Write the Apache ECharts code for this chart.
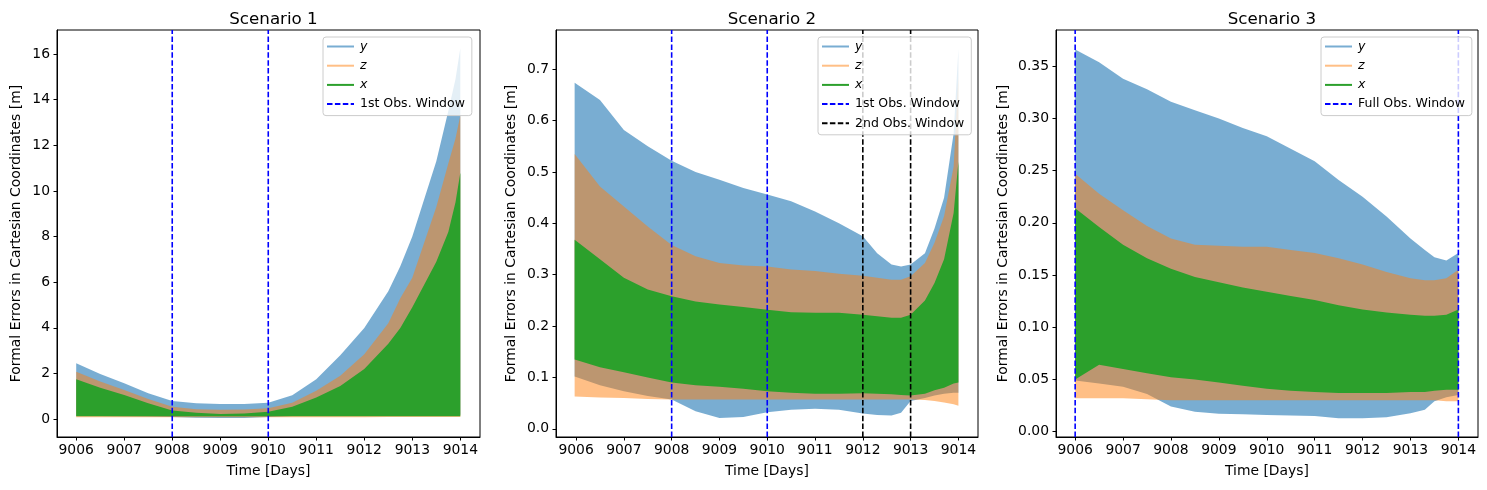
<!DOCTYPE html>
<html>
<head>
<meta charset="utf-8">
<script src="https://cdn.jsdelivr.net/npm/echarts@6/dist/echarts.min.js"></script>
<style>
  html, body { margin: 0; padding: 0; background: #fff; }
  #chart { width: 1487px; height: 490px; }
</style>
</head>
<body>
<div id="chart"></div>
<script>
// envelopes (lower / upper) of the oscillating formal errors
var t1 = [9006, 9006.5, 9007, 9007.5, 9008, 9008.5, 9009, 9009.5, 9010, 9010.5, 9011, 9011.5, 9012, 9012.5, 9012.75, 9013, 9013.5, 9013.75, 9013.9, 9014];
var y1Hi = [2.45, 1.98, 1.58, 1.14, 0.8, 0.7, 0.67, 0.67, 0.72, 1.05, 1.75, 2.8, 4.0, 5.6, 6.7, 8.0, 11.3, 13.5, 14.9, 16.25];
var y1Lo = [0.15, 0.14, 0.13, 0.12, 0.1, 0.06, 0.05, 0.05, 0.1, 0.14, 0.15, 0.16, 0.17, 0.18, 0.18, 0.18, 0.19, 0.19, 0.2, 0.2];
var z1Hi = [2.08, 1.65, 1.28, 0.88, 0.55, 0.44, 0.41, 0.42, 0.48, 0.72, 1.25, 1.9, 2.85, 4.2, 5.3, 6.2, 9.3, 11.2, 12.3, 13.3];
var z1Lo = [0.09, 0.09, 0.09, 0.09, 0.09, 0.09, 0.09, 0.09, 0.09, 0.09, 0.09, 0.09, 0.09, 0.1, 0.1, 0.1, 0.1, 0.1, 0.1, 0.1];
var x1Hi = [1.75, 1.38, 1.06, 0.7, 0.38, 0.28, 0.23, 0.25, 0.33, 0.55, 0.95, 1.45, 2.2, 3.3, 4.0, 4.9, 6.9, 8.2, 9.5, 10.8];
var x1Lo = [0.13, 0.13, 0.13, 0.13, 0.13, 0.13, 0.13, 0.13, 0.13, 0.13, 0.13, 0.13, 0.13, 0.13, 0.13, 0.13, 0.13, 0.13, 0.13, 0.13];

var t2 = [9005.97, 9006.5, 9007, 9007.5, 9008, 9008.5, 9009, 9009.5, 9010, 9010.5, 9011, 9011.5, 9012, 9012.3, 9012.6, 9012.8, 9013, 9013.3, 9013.5, 9013.7, 9013.9, 9014];
var y2Hi = [0.674, 0.64, 0.582, 0.55, 0.522, 0.5, 0.485, 0.469, 0.456, 0.443, 0.423, 0.4, 0.375, 0.342, 0.32, 0.316, 0.32, 0.342, 0.39, 0.45, 0.575, 0.74];
var y2Lo = [0.102, 0.085, 0.073, 0.064, 0.057, 0.034, 0.021, 0.023, 0.032, 0.037, 0.039, 0.037, 0.03, 0.027, 0.026, 0.031, 0.054, 0.06, 0.065, 0.068, 0.07, 0.07];
var z2Hi = [0.535, 0.472, 0.433, 0.394, 0.358, 0.336, 0.323, 0.318, 0.316, 0.31, 0.307, 0.302, 0.298, 0.294, 0.29, 0.29, 0.297, 0.323, 0.362, 0.414, 0.51, 0.686];
var z2Lo = [0.063, 0.061, 0.06, 0.058, 0.057, 0.057, 0.057, 0.057, 0.057, 0.057, 0.057, 0.057, 0.057, 0.057, 0.057, 0.057, 0.057, 0.056, 0.054, 0.051, 0.048, 0.045];
var x2Hi = [0.368, 0.33, 0.294, 0.271, 0.258, 0.248, 0.242, 0.237, 0.232, 0.227, 0.226, 0.226, 0.222, 0.219, 0.216, 0.216, 0.222, 0.25, 0.284, 0.33, 0.42, 0.52];
var x2Lo = [0.135, 0.12, 0.11, 0.1, 0.09, 0.085, 0.082, 0.078, 0.073, 0.07, 0.068, 0.068, 0.069, 0.068, 0.067, 0.066, 0.065, 0.068, 0.075, 0.08, 0.088, 0.09];

var t3 = [9006, 9006.5, 9007, 9007.5, 9008, 9008.5, 9009, 9009.5, 9010, 9010.5, 9011, 9011.5, 9012, 9012.5, 9013, 9013.3, 9013.5, 9013.75, 9014];
var y3Hi = [0.366, 0.354, 0.338, 0.328, 0.316, 0.308, 0.3, 0.291, 0.283, 0.271, 0.259, 0.241, 0.225, 0.206, 0.185, 0.174, 0.167, 0.164, 0.171];
var y3Lo = [0.049, 0.046, 0.043, 0.036, 0.024, 0.019, 0.017, 0.0165, 0.016, 0.0155, 0.015, 0.0128, 0.0128, 0.0138, 0.0176, 0.021, 0.029, 0.033, 0.035];
var z3Hi = [0.247, 0.228, 0.212, 0.197, 0.185, 0.179, 0.178, 0.177, 0.177, 0.174, 0.171, 0.166, 0.16, 0.153, 0.147, 0.145, 0.145, 0.147, 0.155];
var z3Lo = [0.032, 0.032, 0.032, 0.031, 0.03, 0.03, 0.03, 0.03, 0.03, 0.03, 0.03, 0.03, 0.03, 0.03, 0.03, 0.03, 0.03, 0.029, 0.029];
var x3Hi = [0.214, 0.196, 0.179, 0.166, 0.156, 0.148, 0.143, 0.138, 0.134, 0.13, 0.126, 0.121, 0.117, 0.114, 0.112, 0.111, 0.111, 0.112, 0.117];
var x3Lo = [0.05, 0.064, 0.06, 0.056, 0.052, 0.05, 0.047, 0.044, 0.041, 0.039, 0.038, 0.037, 0.037, 0.037, 0.038, 0.038, 0.039, 0.04, 0.04];

// observation windows (days)
var obs1Days = [9008, 9010];
var obs2Days = [9012, 9013];
var fullObsDays = [9006, 9014];

// tick labels
var dayTicks = [9006, 9007, 9008, 9009, 9010, 9011, 9012, 9013, 9014];
var yTicks1 = [0, 2, 4, 6, 8, 10, 12, 14, 16];
var yTicks2 = [0, 0.1, 0.2, 0.3, 0.4, 0.5, 0.6, 0.7];
var yTicks3 = [0, 0.05, 0.1, 0.15, 0.2, 0.25, 0.3, 0.35];

var titles = ['Scenario 1', 'Scenario 2', 'Scenario 3'];

var BLUE = 'rgba(31,119,180,0.6)';
var ORANGE = 'rgba(255,127,14,0.5)';
var GREEN = '#2ca02c';
var FONT = 'DejaVu Sans';

var chart = echarts.init(document.getElementById('chart'));

var grids = [
    {left: 57, top: 30, width: 423, height: 407},
    {left: 556, top: 30, width: 422, height: 407},
    {left: 1056, top: 30, width: 422, height: 407}
];
var yRanges = [[-0.78, 17.05], [-0.016, 0.7765], [-0.0052, 0.3848]];
var yTickSets = [yTicks1, yTicks2, yTicks3];
var yDigits = [0, 1, 2];
var yNameGaps = [34, 38, 46];

function band(name, color, idx, t, lo, hi) {
    return {
        type: 'custom',
        name: name,
        xAxisIndex: idx,
        yAxisIndex: idx,
        itemStyle: {color: color},
        data: t.map(function (d, i) { return [d, lo[i], hi[i]]; }),
        encode: {x: 0, y: [1, 2]},
        renderItem: function (params, api) {
            if (params.dataIndex !== 0) return null;
            var pts = [];
            for (var i = 0; i < t.length; i++) pts.push(api.coord([t[i], hi[i]]));
            for (var j = t.length - 1; j >= 0; j--) pts.push(api.coord([t[j], lo[j]]));
            return {type: 'polygon', shape: {points: pts}, style: {fill: color}};
        },
        z: 2
    };
}

function vlines(name, color, idx, days) {
    return {
        type: 'custom',
        name: name,
        xAxisIndex: idx,
        yAxisIndex: idx,
        itemStyle: {color: color},
        data: days.map(function (d) { return [d, 0]; }),
        encode: {x: 0, y: 1},
        renderItem: function (params, api) {
            var p = api.coord([api.value(0), 0]);
            var cs = params.coordSys;
            return {
                type: 'line',
                shape: {x1: p[0], y1: cs.y + cs.height, x2: p[0], y2: cs.y},
                style: {stroke: color, lineWidth: 1.6, lineDash: [5.5, 2.4]}
            };
        },
        z: 3
    };
}

var series = [
    band('y', BLUE, 0, t1, y1Lo, y1Hi),
    band('z', ORANGE, 0, t1, z1Lo, z1Hi),
    band('x', GREEN, 0, t1, x1Lo, x1Hi),
    vlines('1st Obs. Window', '#0000ff', 0, obs1Days),

    band('y', BLUE, 1, t2, y2Lo, y2Hi),
    band('z', ORANGE, 1, t2, z2Lo, z2Hi),
    band('x', GREEN, 1, t2, x2Lo, x2Hi),
    vlines('1st Obs. Window', '#0000ff', 1, obs1Days),
    vlines('2nd Obs. Window', '#000000', 1, obs2Days),

    band('y', BLUE, 2, t3, y3Lo, y3Hi),
    band('z', ORANGE, 2, t3, z3Lo, z3Hi),
    band('x', GREEN, 2, t3, x3Lo, x3Hi),
    vlines('Full Obs. Window', '#0000ff', 2, fullObsDays)
];

var LINE_ICON = 'path://M0,0H27V2H0Z';
var DASH_ICON = 'path://M0,0h5.5v2h-5.5zM7.9,0h5.5v2h-5.5zM15.8,0h5.5v2h-5.5zM23.7,0h3.3v2h-3.3z';

function legendItems(extra) {
    var items = [
        {name: 'y', icon: LINE_ICON, textStyle: {fontStyle: 'italic'}},
        {name: 'z', icon: LINE_ICON, textStyle: {fontStyle: 'italic'}},
        {name: 'x', icon: LINE_ICON, textStyle: {fontStyle: 'italic'}}
    ];
    extra.forEach(function (n) { items.push({name: n, icon: DASH_ICON}); });
    return items;
}

function legend(left, extra) {
    return {
        orient: 'vertical',
        left: left,
        top: 37,
        z: 6,
        itemWidth: 27,
        itemHeight: 14,
        itemGap: 6.2,
        padding: [3, 7, 5, 4],
        backgroundColor: 'rgba(255,255,255,0.8)',
        borderColor: '#cccccc',
        borderWidth: 1,
        borderRadius: 3,
        selectedMode: false,
        itemStyle: {borderWidth: 0},
        textStyle: {fontFamily: FONT, fontSize: 12.5, color: '#000', padding: [0, 0, 0, 1]},
        data: legendItems(extra)
    };
}

var option = {
    animation: false,
    backgroundColor: '#fff',
    textStyle: {fontFamily: FONT},
    title: grids.map(function (g, i) {
        return {
            text: titles[i],
            left: g.left + g.width / 2,
            top: 6,
            textAlign: 'center',
            textStyle: {fontFamily: FONT, fontSize: 16.7, fontWeight: 'normal', color: '#000'}
        };
    }),
    legend: [
        legend(323, ['1st Obs. Window']),
        legend(818, ['1st Obs. Window', '2nd Obs. Window']),
        legend(1321, ['Full Obs. Window'])
    ],
    grid: grids.map(function (g) {
        return {left: g.left, top: g.top, width: g.width, height: g.height,
            show: true, borderColor: '#000', borderWidth: 1, backgroundColor: 'transparent'};
    }),
    xAxis: grids.map(function (g, i) {
        return {
            type: 'value',
            gridIndex: i,
            min: i === 1 ? 9005.58 : 9005.6,
            max: 9014.41,
            name: 'Time [Days]',
            nameLocation: 'middle',
            nameGap: 27,
            nameTextStyle: {fontFamily: FONT, fontSize: 13.9, color: '#000'},
            axisLine: {show: true, onZero: false, lineStyle: {color: '#000', width: 1}},
            axisTick: {show: true, length: 3.5, customValues: dayTicks, lineStyle: {color: '#000'}},
            axisLabel: {customValues: dayTicks, margin: 6, fontFamily: FONT, fontSize: 13.9, color: '#000',
                formatter: function (v) { return String(v); }},
            splitLine: {show: false}
        };
    }),
    yAxis: grids.map(function (g, i) {
        return {
            type: 'value',
            gridIndex: i,
            min: yRanges[i][0],
            max: yRanges[i][1],
            name: 'Formal Errors in Cartesian Coordinates [m]',
            nameLocation: 'middle',
            nameGap: yNameGaps[i],
            nameTextStyle: {fontFamily: FONT, fontSize: 13.9, color: '#000'},
            axisLine: {show: true, onZero: false, lineStyle: {color: '#000', width: 1}},
            axisTick: {show: true, length: 3.5, customValues: yTickSets[i], lineStyle: {color: '#000'}},
            axisLabel: {customValues: yTickSets[i], margin: 7, fontFamily: FONT, fontSize: 13.9, color: '#000',
                formatter: (function (digits) { return function (v) { return v.toFixed(digits); }; })(yDigits[i])},
            splitLine: {show: false}
        };
    }),
    series: series
};

chart.setOption(option);
</script>
</body>
</html>
